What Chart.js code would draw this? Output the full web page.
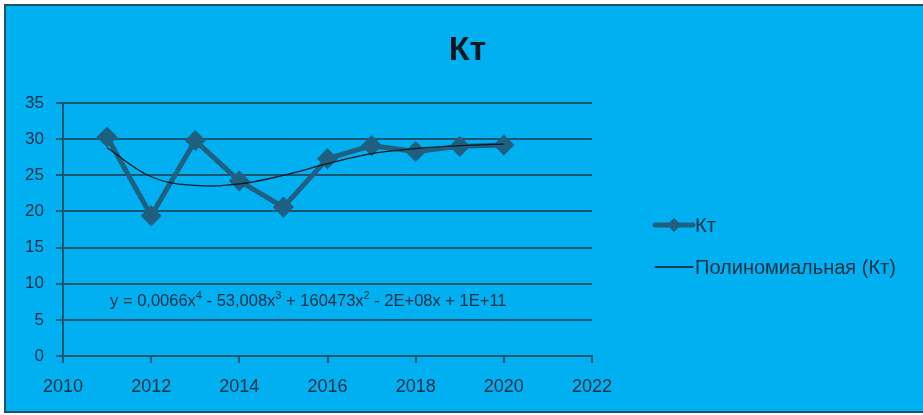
<!DOCTYPE html>
<html>

<head>
    <title>Кт</title>
    <meta charset="utf-8">
    <script src="https://cdn.jsdelivr.net/npm/chart.js"></script>
    <style>
        body { margin: 0; background: #fff; overflow: hidden; }
        #wrap {
            position: absolute; left: 4px; top: 4px; width: 925px; height: 405px;
            border-left: 2px solid #1b5368; border-top: 2px solid #1b5368; border-bottom: 2px solid #1b5368;
            background: #00b0f0;
        }
    </style>
</head>

<body>
    <div id="wrap">
        <canvas id="ktChart" width="917" height="405"></canvas>
    </div>

    <script>
        // values
        var years = [2011, 2012, 2013, 2014, 2015, 2016, 2017, 2018, 2019, 2020];
        var ktValues = [30.3, 19.4, 29.8, 24.2, 20.6, 27.3, 29.1, 28.3, 29.0, 29.2];
        var trendValues = [28.8, 24.8, 23.6, 23.8, 25.0, 26.6, 28.0, 28.7, 29.1, 29.3];
        var xTicks = [2010, 2012, 2014, 2016, 2018, 2020, 2022];
        var yTicks = [0, 5, 10, 15, 20, 25, 30, 35];
        var chartTitle = "Кт";
        var equationParts = [["y = 0,0066x", "4"], [" - 53,008x", "3"], [" + 160473x", "2"], [" - 2E+08x + 1E+11", ""]];

        var lineColor = "#1f5f80";
        var gridColor = "#1b5570";
        var textColor = "#0e2f44";
        var fontFamily = "'Liberation Sans', Arial, sans-serif";

        function toPoints(xs, ys) {
            return xs.map(function (x, i) { return { x: x, y: ys[i] }; });
        }

        // title, trendline equation text and legend on the right
        var extras = {
            id: "extras",
            afterDraw: function (chart) {
                var ctx = chart.ctx;
                var xs = chart.scales.x, ys = chart.scales.y;
                ctx.save();

                ctx.fillStyle = "#0b1822";
                ctx.textAlign = "center";
                ctx.textBaseline = "middle";
                ctx.font = "bold 34px " + fontFamily;
                ctx.fillText(chartTitle, chart.width / 2 + 3, 45);

                ctx.textAlign = "left";
                ctx.fillStyle = textColor;
                var px = xs.getPixelForValue(2011) + 3;
                var py = ys.getPixelForValue(7.5);
                equationParts.forEach(function (p) {
                    ctx.font = "16.5px " + fontFamily;
                    ctx.fillText(p[0], px, py);
                    px += ctx.measureText(p[0]).width;
                    if (p[1]) {
                        ctx.font = "11px " + fontFamily;
                        ctx.fillText(p[1], px, py - 6);
                        px += ctx.measureText(p[1]).width;
                    }
                });

                // legend
                var ds = chart.data.datasets;
                var lx = 649, ly = [219, 261];
                ctx.font = "20px " + fontFamily;
                ds.forEach(function (d, i) {
                    ctx.strokeStyle = d.borderColor;
                    ctx.lineWidth = d.borderWidth;
                    ctx.lineCap = "round";
                    ctx.beginPath();
                    ctx.moveTo(lx, ly[i]);
                    ctx.lineTo(lx + 38, ly[i]);
                    ctx.stroke();
                    if (d.pointRadius > 0) {
                        ctx.fillStyle = d.backgroundColor;
                        ctx.beginPath();
                        ctx.moveTo(lx + 19, ly[i] - 7);
                        ctx.lineTo(lx + 26, ly[i]);
                        ctx.lineTo(lx + 19, ly[i] + 7);
                        ctx.lineTo(lx + 12, ly[i]);
                        ctx.closePath();
                        ctx.fill();
                    }
                    ctx.fillStyle = textColor;
                    ctx.fillText(d.label, lx + 40, ly[i] + 1);
                });
                ctx.restore();
            }
        };

        new Chart("ktChart", {
            type: "scatter",
            data: {
                datasets: [{
                    label: "Кт",
                    data: toPoints(years, ktValues),
                    showLine: true,
                    borderColor: lineColor,
                    backgroundColor: lineColor,
                    borderWidth: 5,
                    pointStyle: "rectRot",
                    pointRadius: 7,
                    pointHoverRadius: 7,
                    order: 2
                }, {
                    label: "Полиномиальная (Кт)",
                    data: toPoints(years, trendValues),
                    showLine: true,
                    borderColor: "#0a1a24",
                    backgroundColor: "#0a1a24",
                    borderWidth: 1.3,
                    pointRadius: 0,
                    tension: 0.4,
                    order: 1
                }]
            },
            options: {
                responsive: false,
                animation: false,
                layout: { padding: { left: 0, right: 331, top: 97, bottom: 0 } },
                plugins: {
                    legend: { display: false },
                    tooltip: { enabled: false },
                    title: { display: false }
                },
                scales: {
                    x: {
                        type: "linear",
                        min: 2010,
                        max: 2022,
                        afterFit: function (s) { s.height = 55; },
                        afterBuildTicks: function (s) { s.ticks = xTicks.map(function (v) { return { value: v }; }); },
                        ticks: {
                            color: textColor,
                            font: { family: fontFamily, size: 18 },
                            padding: 13,
                            maxRotation: 0,
                            callback: function (v) { return String(v); }
                        },
                        grid: { drawOnChartArea: false, drawTicks: true, tickLength: 7, color: gridColor, lineWidth: 2 },
                        border: { display: true, color: gridColor, width: 2 }
                    },
                    y: {
                        min: 0,
                        max: 35,
                        afterFit: function (s) { s.width = 57; },
                        afterBuildTicks: function (s) { s.ticks = yTicks.map(function (v) { return { value: v }; }); },
                        ticks: {
                            color: textColor,
                            font: { family: fontFamily, size: 17 },
                            padding: 12
                        },
                        grid: { color: gridColor, lineWidth: 2, tickLength: 7 },
                        border: { display: true, color: gridColor, width: 2 }
                    }
                }
            },
            plugins: [extras]
        });
    </script>
</body>

</html>
